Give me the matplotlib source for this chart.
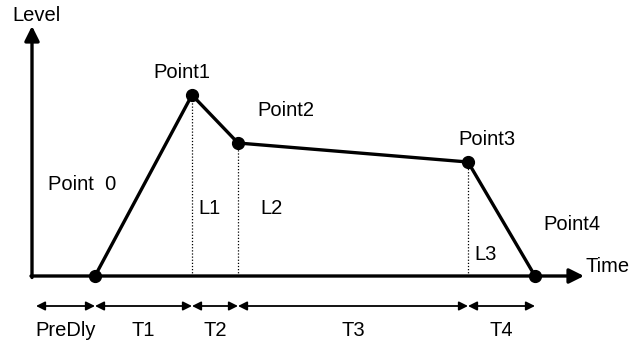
import numpy as np
import matplotlib
matplotlib.use('Agg')
import matplotlib.pyplot as plt

# envelope segments (time durations) and levels at each point
seg_names = ['PreDly', 'T1', 'T2', 'T3', 'T4']
seg_dur = [63, 97, 46, 230, 67]
levels = [0, 181, 133, 114, 0]
point_names = ['Point  0', 'Point1', 'Point2', 'Point3', 'Point4']
level_names = ['L1', 'L2', 'L3']

t = np.cumsum([0] + seg_dur)      # 0, PreDly end, P1, P2, P3, P4
pt_x = t[1:]
pt_y = np.array(levels)

plt.rcParams['font.family'] = ['Liberation Sans', 'DejaVu Sans']
fig = plt.figure(figsize=(6.34, 3.47), dpi=100)
ax = fig.add_axes([0, 0, 1, 1])
ax.set_xlim(-32, 602)
ax.set_ylim(-71, 276)
ax.axis('off')

fs = 14.5
lw = 2.4

# axes with arrows
ax.annotate('', xy=(0, 250), xytext=(0, -1.5),
            arrowprops=dict(arrowstyle='-|>', lw=lw, color='k',
                            mutation_scale=22, shrinkA=0, shrinkB=0))
ax.annotate('', xy=(552, 0), xytext=(-1, 0),
            arrowprops=dict(arrowstyle='-|>', lw=lw, color='k',
                            mutation_scale=22, shrinkA=0, shrinkB=0))
ax.text(4, 261, 'Level', fontsize=fs, ha='center', va='center')
ax.text(553, 9, 'Time', fontsize=fs, ha='left', va='center')

# envelope
ax.plot(pt_x, pt_y, color='k', lw=lw, solid_joinstyle='round', zorder=3)
ax.plot(pt_x, pt_y, 'o', color='k', ms=8.5, zorder=4)

# dotted verticals from points 1..3
for i in range(1, 4):
    ax.plot([pt_x[i], pt_x[i]], [0, pt_y[i]], color='k', lw=0.9,
            ls=(0, (1, 1.5)), zorder=2)

# point labels
pt_lab_pos = [(16, 91), (121, 204), (225, 166), (426, 137), (511, 51)]
for name, (x, y) in zip(point_names, pt_lab_pos):
    ax.text(x, y, name, fontsize=fs, ha='left', va='center')

# level labels
lvl_pos = [(178, 68), (240, 68), (454, 22)]
for name, (x, y) in zip(level_names, lvl_pos):
    ax.text(x, y, name, fontsize=fs, ha='center', va='center')

# time segment arrows
starts = [4] + list(t[1:-1])
for i, name in enumerate(seg_names):
    ax.annotate('', xy=(t[i + 1], -30), xytext=(starts[i], -30),
                arrowprops=dict(arrowstyle='<|-|>', lw=1.3, color='k',
                                mutation_scale=13, shrinkA=0, shrinkB=0))
    xc = (starts[i] + t[i + 1]) / 2
    ax.text(xc, -54, name, fontsize=fs, ha='center', va='center')

fig.savefig('out.png', dpi=100)
plt.close()
